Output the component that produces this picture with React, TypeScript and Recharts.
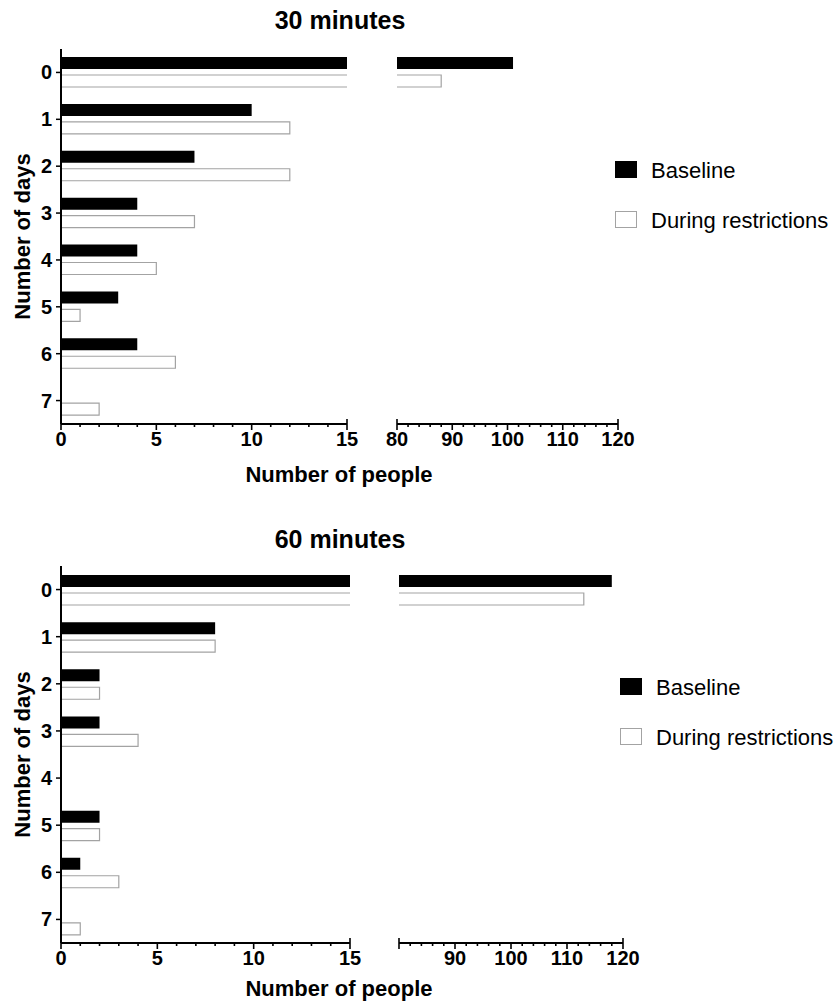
import React from 'react';
import { BarChart, Bar, XAxis, YAxis } from 'recharts';

const days = ['0', '1', '2', '3', '4', '5', '6', '7'];
const baseline30 = [101, 10, 7, 4, 4, 3, 4, 0];
const during30 = [88, 12, 12, 7, 5, 1, 6, 2];
const baseline60 = [118, 8, 2, 2, 0, 2, 1, 0];
const during60 = [113, 8, 2, 4, 0, 2, 3, 1];
const seriesNames = ['Baseline', 'During restrictions'];
const panelTitles = ['30 minutes', '60 minutes'];

const leftTicks = [0, 1, 2, 3, 4, 5, 6, 7, 8, 9, 10, 11, 12, 13, 14, 15];
const leftMajors = [0, 5, 10, 15];
const rightTicks = [80, 82, 84, 86, 88, 90, 92, 94, 96, 98, 100, 102, 104, 106, 108, 110, 112, 114, 116, 118, 120];
const rightMajors = [80, 90, 100, 110, 120];
const rightLabels30 = [80, 90, 100, 110, 120];
const rightLabels60 = [90, 100, 110, 120];
const leftDomain = [0, 15];
const rightDomain = [80, 120];

const FONT = '"Liberation Sans", Arial, sans-serif';
const GRAY = '#a3a3a3';

const OutlineBar = (props: any) => {
  const { x, y, width, height, openLeft } = props;
  if (!width || width <= 0) return null;
  const d = openLeft
    ? `M${x},${y}H${x + width}V${y + height}H${x}`
    : `M${x},${y}H${x + width}V${y + height}H${x}Z`;
  return (
    <g>
      <rect x={x} y={y} width={width} height={height} fill="#fff" />
      <path d={d} fill="none" stroke={GRAY} strokeWidth={1.2} />
    </g>
  );
};

const makeTick = (majors: number[], labels: number[], ends: number[]) => (props: any) => {
  const { x, y, payload } = props;
  const v = payload.value;
  const major = majors.includes(v);
  const isEnd = ends.includes(v);
  return (
    <g>
      <line x1={x} x2={x} y1={isEnd ? y - 5 : y} y2={y + (major ? 6 : 3)} stroke="#000" strokeWidth={1.6} />
      {labels.includes(v) && (
        <text x={x} y={y + 22} textAnchor="middle" fontSize={20} fontWeight="bold" fontFamily={FONT} fill="#000">
          {v}
        </text>
      )}
    </g>
  );
};

const DayTick = (props: any) => {
  const { x, y, payload } = props;
  return (
    <text x={x} y={y} dy={7} textAnchor="end" fontSize={20} fontWeight="bold" fontFamily={FONT} fill="#000">
      {payload.value}
    </text>
  );
};

interface PanelProps {
  title: string;
  baseline: number[];
  during: number[];
  rightLabels: number[];
  top: number;
  plotTop: number;
  plotBottom: number;
  leftEnd: number;
  rightStart: number;
  rightEnd: number;
  xTitleY: number;
  legendX: number;
  legendY: number;
}

const Panel = (p: PanelProps) => {
  const data = days.map((d, i) => ({ day: d, baseline: p.baseline[i], during: p.during[i] }));
  const rightData = days.map((d, i) => ({
    day: d,
    baseline: p.baseline[i] >= rightDomain[0] ? p.baseline[i] : null,
    during: p.during[i] >= rightDomain[0] ? p.during[i] : null,
  }));
  const mTop = 20;
  const axisH = 35;
  const h = p.plotBottom - p.plotTop + mTop + axisH;
  const chartTop = p.plotTop - mTop;
  const rightMargin = 25;
  const rightW = p.rightEnd - p.rightStart + rightMargin * 2;
  const plotMid = (p.plotTop + p.plotBottom) / 2;

  return (
    <>
      <div style={{ position: 'absolute', left: 0, top: chartTop }}>
        <BarChart
          width={p.leftEnd + 20}
          height={h}
          data={data}
          layout="vertical"
          margin={{ top: mTop, right: 20, left: 0, bottom: 0 }}
          barSize={12}
          barGap={6}
        >
          <XAxis
            type="number"
            domain={leftDomain}
            allowDataOverflow
            ticks={leftTicks}
            interval={0}
            height={axisH}
            tickSize={0}
            tickMargin={0}
            tickLine={false}
            axisLine={{ stroke: '#000', strokeWidth: 2 }}
            tick={makeTick(leftMajors, leftMajors, [15])}
          />
          <YAxis
            type="category"
            dataKey="day"
            width={61}
            tickSize={5}
            tickMargin={4}
            interval={0}
            axisLine={{ stroke: '#000', strokeWidth: 2 }}
            tickLine={{ stroke: '#000', strokeWidth: 1.5 }}
            tick={DayTick}
          />
          <Bar dataKey="baseline" name={seriesNames[0]} fill="#000" isAnimationActive={false} />
          <Bar dataKey="during" name={seriesNames[1]} fill="#fff" isAnimationActive={false} shape={(s: any) => <OutlineBar {...s} />} />
        </BarChart>
      </div>
      <div style={{ position: 'absolute', left: p.rightStart - rightMargin, top: chartTop }}>
        <BarChart
          width={rightW}
          height={h}
          data={rightData}
          layout="vertical"
          margin={{ top: mTop, right: rightMargin, left: rightMargin, bottom: 0 }}
          barSize={12}
          barGap={6}
        >
          <XAxis
            type="number"
            domain={rightDomain}
            allowDataOverflow
            ticks={rightTicks}
            interval={0}
            height={axisH}
            tickSize={0}
            tickMargin={0}
            tickLine={false}
            axisLine={{ stroke: '#000', strokeWidth: 2 }}
            tick={makeTick(rightMajors, p.rightLabels, [80, 120])}
          />
          <YAxis type="category" dataKey="day" hide />
          <Bar dataKey="baseline" name={seriesNames[0]} fill="#000" isAnimationActive={false} />
          <Bar dataKey="during" name={seriesNames[1]} fill="#fff" isAnimationActive={false} shape={(s: any) => <OutlineBar {...s} openLeft />} />
        </BarChart>
      </div>
      <svg
        width={836}
        height={520}
        style={{ position: 'absolute', left: 0, top: p.top, pointerEvents: 'none' }}
        fontFamily={FONT}
      >
        <text x={340} y={20} textAnchor="middle" dominantBaseline="central" fontSize={25} fontWeight="bold">
          {p.title}
        </text>
        <text x={339} y={p.xTitleY - p.top} textAnchor="middle" dominantBaseline="central" fontSize={22} fontWeight="bold">
          Number of people
        </text>
        <text
          x={22}
          y={plotMid - p.top}
          textAnchor="middle"
          dominantBaseline="central"
          fontSize={22}
          fontWeight="bold"
          transform={`rotate(-90 22 ${plotMid - p.top})`}
        >
          Number of days
        </text>
        <rect x={p.legendX} y={p.legendY - p.top} width={22} height={17} fill="#000" />
        <text x={p.legendX + 36} y={p.legendY - p.top + 9} dominantBaseline="central" fontSize={22}>
          {seriesNames[0]}
        </text>
        <rect x={p.legendX + 0.5} y={p.legendY - p.top + 50.5} width={21} height={16} fill="#fff" stroke={GRAY} strokeWidth={1} />
        <text x={p.legendX + 36} y={p.legendY - p.top + 59} dominantBaseline="central" fontSize={22}>
          {seriesNames[1]}
        </text>
      </svg>
    </>
  );
};

export default function App() {
  return (
    <div style={{ position: 'absolute', left: 0, top: 0, width: 836, height: 1005, background: '#fff', overflow: 'hidden' }}>
      <Panel
        title={panelTitles[0]}
        baseline={baseline30}
        during={during30}
        rightLabels={rightLabels30}
        top={0}
        plotTop={49}
        plotBottom={424}
        leftEnd={347}
        rightStart={397}
        rightEnd={618}
        xTitleY={474}
        legendX={615}
        legendY={161}
      />
      <Panel
        title={panelTitles[1]}
        baseline={baseline60}
        during={during60}
        rightLabels={rightLabels60}
        top={519}
        plotTop={566}
        plotBottom={943}
        leftEnd={350}
        rightStart={399}
        rightEnd={623}
        xTitleY={988}
        legendX={620}
        legendY={678}
      />
    </div>
  );
}
